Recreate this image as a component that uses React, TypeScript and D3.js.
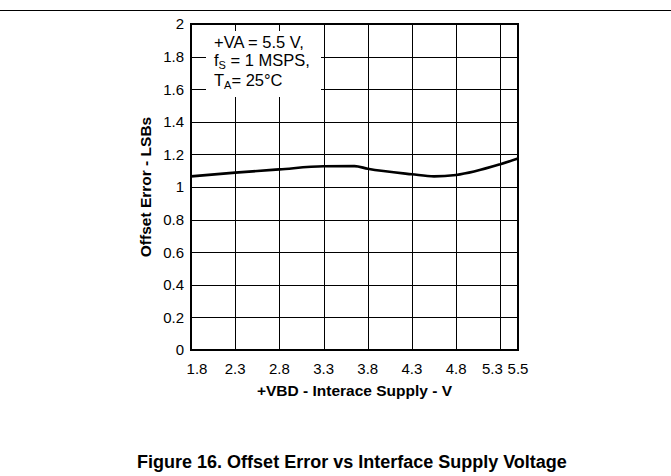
import React from 'react';
import * as d3 from 'd3';

const xTicks = [1.8, 2.3, 2.8, 3.3, 3.8, 4.3, 4.8, 5.3, 5.5];
const yTicks = [0, 0.2, 0.4, 0.6, 0.8, 1, 1.2, 1.4, 1.6, 1.8, 2];
const supplyV = [1.8, 2.3, 2.8, 3.3, 3.65, 3.8, 4.3, 4.55, 4.8, 5.3, 5.5];
const offsetErr = [1.065, 1.088, 1.108, 1.127, 1.128, 1.112, 1.078, 1.065, 1.074, 1.14, 1.175];
const xLabel = '+VBD - Interace Supply - V';
const yLabel = 'Offset Error - LSBs';
const title = 'Figure 16. Offset Error vs Interface Supply Voltage';

const W = 671, H = 476;
const L = 191, R = 518, T = 24, B = 350;

export default function App() {
  const x = d3.scaleLinear().domain([1.8, 5.5]).range([L, R]);
  const y = d3.scaleLinear().domain([0, 2]).range([B, T]);
  const pts = supplyV.map((v, i) => [v, offsetErr[i]] as [number, number]);
  const line = d3.line<[number, number]>().x(d => x(d[0])).y(d => y(d[1])).curve(d3.curveMonotoneX);
  const font = 'Arial, "Liberation Sans", Helvetica, sans-serif';
  const fmt = (v: number) => String(+v.toFixed(1));
  const xOff = (v: number) => (v === 1.8 ? 6 : v === 5.3 ? -8 : 0);
  return (
    <svg width={W} height={H} style={{ position: 'absolute', left: 0, top: 0, background: '#fff' }} fontFamily={font}>
      <rect x={0} y={0} width={W} height={H} fill="#fff" />
      <line x1={0} x2={W} y1={10.5} y2={10.5} stroke="#000" strokeWidth={1} />
      {yTicks.slice(1, -1).map(v => (
        <line key={'gy' + v} x1={L} x2={R} y1={Math.round(y(v)) + 0.5} y2={Math.round(y(v)) + 0.5} stroke="#000" strokeWidth={1} />
      ))}
      {xTicks.slice(1, -1).map(v => (
        <line key={'gx' + v} x1={Math.round(x(v)) + 0.5} x2={Math.round(x(v)) + 0.5} y1={T} y2={B} stroke="#000" strokeWidth={1} />
      ))}
      <rect x={206} y={31} width={115} height={66} fill="#fff" />
      <text fontSize={16.5} fill="#000">
        <tspan x={214} y={48}>+VA = 5.5 V,</tspan>
      </text>
      <text fontSize={16.5} fill="#000" x={214} y={66}>
        f<tspan fontSize={11} dy={3}>S</tspan><tspan dy={-3}> = 1 MSPS,</tspan>
      </text>
      <text fontSize={16.5} fill="#000" x={214} y={86}>
        T<tspan fontSize={11} dy={3}>A</tspan><tspan dy={-3}>= 25°C</tspan>
      </text>
      <rect x={L} y={T} width={R - L} height={B - T} fill="none" stroke="#000" strokeWidth={2} />
      <path d={line(pts) || ''} fill="none" stroke="#000" strokeWidth={2.6} strokeLinejoin="round" />
      {yTicks.map(v => (
        <text key={'ty' + v} x={184} y={y(v)} dy="0.36em" textAnchor="end" fontSize={15} fill="#000">{fmt(v)}</text>
      ))}
      {xTicks.map(v => (
        <text key={'tx' + v} x={x(v) + xOff(v)} y={374} textAnchor="middle" fontSize={15} fill="#000">{fmt(v)}</text>
      ))}
      <text x={(L + R) / 2} y={396} textAnchor="middle" fontSize={15.5} fontWeight="bold" fill="#000">{xLabel}</text>
      <text transform={`translate(151, ${(T + B) / 2}) rotate(-90)`} textAnchor="middle" fontSize={15.5} fontWeight="bold" fill="#000">{yLabel}</text>
      <text x={352} y={468} textAnchor="middle" fontSize={18} fontWeight="bold" fill="#000">{title}</text>
    </svg>
  );
}
